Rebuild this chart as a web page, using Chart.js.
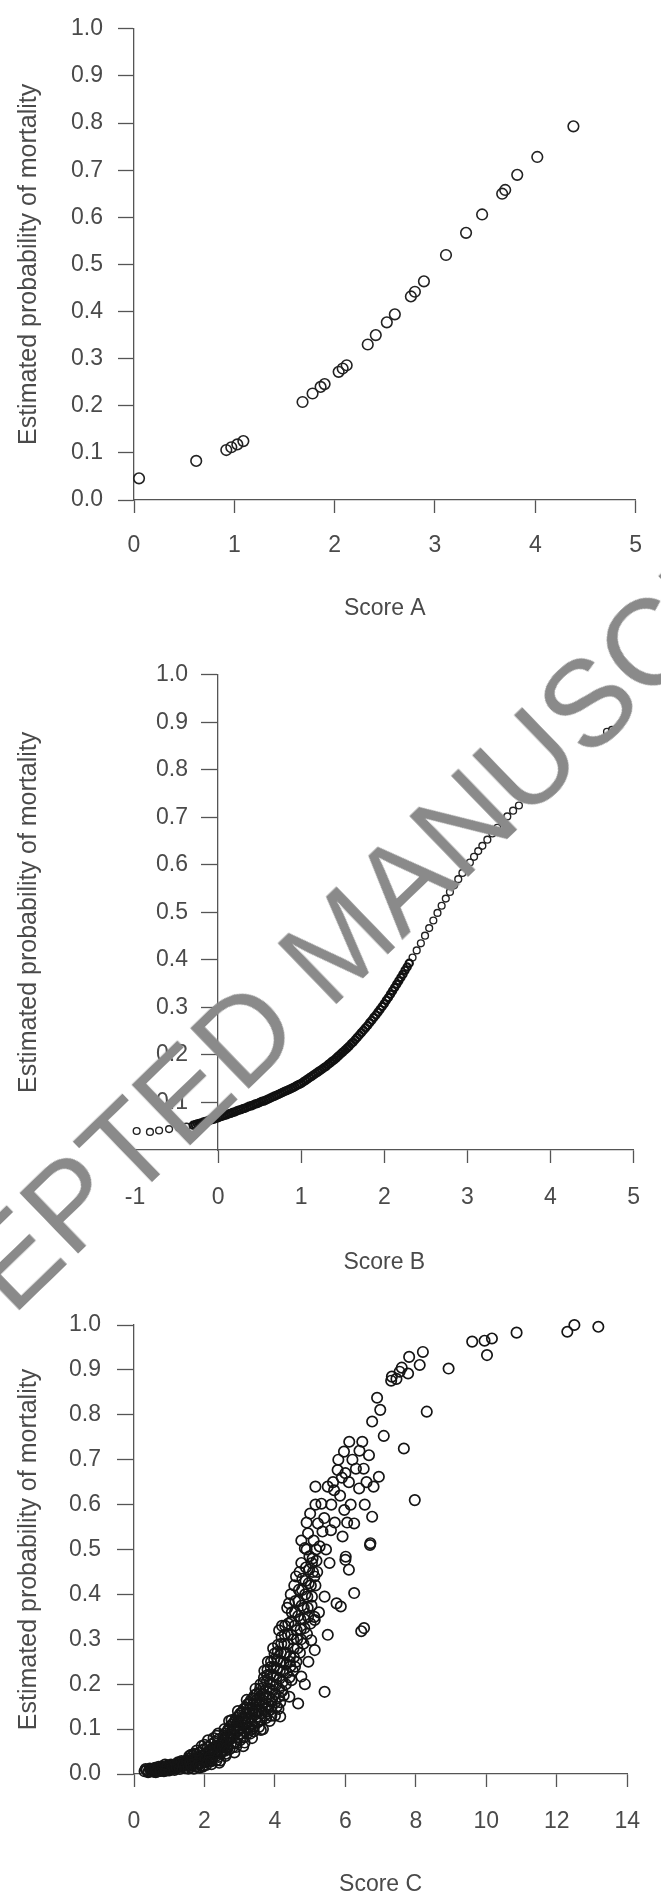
<!DOCTYPE html>
<html>
<head>
<meta charset="utf-8">
<script src="https://cdn.jsdelivr.net/npm/chart.js@4.4.1/dist/chart.umd.min.js"></script>
<style>
  html, body { margin: 0; padding: 0; background: #fff; overflow: hidden; }
  #wrap { position: relative; width: 661px; height: 1899px; overflow: hidden; }
  canvas { position: absolute; left: 0; }
  #wm {
    position: absolute; left: -173px; top: 1393px;
    font-family: 'Liberation Sans', Arial, sans-serif; font-size: 122px; line-height: 1;
    white-space: nowrap; color: #8a8a8a;
    transform-origin: 0 103px; transform: rotate(-44deg);
  }
</style>
</head>
<body>
<div id="wrap">
  <canvas id="chartA" width="661" height="640" style="top:0"></canvas>
  <canvas id="chartB" width="661" height="640" style="top:640px"></canvas>
  <canvas id="chartC" width="661" height="619" style="top:1280px"></canvas>
  <div id="wm">ACCEPTED MANUSCRIPT</div>
</div>
<script>
// ---- data ----
const yTitle = "Estimated probability of mortality";
const yTicks = [0, 0.1, 0.2, 0.3, 0.4, 0.5, 0.6, 0.7, 0.8, 0.9, 1.0];
const yTicksB = [0.1, 0.2, 0.3, 0.4, 0.5, 0.6, 0.7, 0.8, 0.9, 1.0];
const xTicksA = [0, 1, 2, 3, 4, 5];
const xTicksB = [-1, 0, 1, 2, 3, 4, 5];
const xTicksC = [0, 2, 4, 6, 8, 10, 12, 14];

const scoreA = [0.05, 0.62, 0.92, 0.97, 1.03, 1.09, 1.68, 1.78, 1.86, 1.90, 2.04, 2.08, 2.12, 2.33,
  2.41, 2.52, 2.60, 2.76, 2.80, 2.89, 3.11, 3.31, 3.47, 3.67, 3.70, 3.82, 4.02, 4.38];
const probA = [0.046, 0.083, 0.106, 0.112, 0.118, 0.125, 0.208, 0.226, 0.240, 0.246, 0.272, 0.279, 0.286, 0.330,
  0.350, 0.377, 0.394, 0.432, 0.442, 0.464, 0.520, 0.567, 0.606, 0.650, 0.658, 0.690, 0.728, 0.793];

// Score B: the solid band of overlapping points
const scoreBBand = [
  -0.300, -0.275, -0.250, -0.225, -0.200, -0.175, -0.150, -0.125, -0.100, -0.075,
  -0.050, -0.025, 0.000, 0.025, 0.050, 0.075, 0.100, 0.125, 0.150, 0.175,
  0.200, 0.225, 0.250, 0.275, 0.300, 0.325, 0.350, 0.375, 0.400, 0.425,
  0.450, 0.475, 0.500, 0.525, 0.550, 0.575, 0.600, 0.625, 0.650, 0.675,
  0.700, 0.725, 0.750, 0.775, 0.800, 0.825, 0.850, 0.875, 0.900, 0.925,
  0.950, 0.975, 1.000, 1.025, 1.050, 1.075, 1.100, 1.125, 1.150, 1.175,
  1.200, 1.225, 1.250, 1.275, 1.300, 1.325, 1.350, 1.375, 1.400, 1.425,
  1.450, 1.475, 1.500, 1.525, 1.550, 1.575, 1.600, 1.625, 1.650, 1.675,
  1.700, 1.725, 1.750, 1.775, 1.800, 1.825, 1.850, 1.875, 1.900, 1.925,
  1.950, 1.975, 2.000, 2.025, 2.050, 2.075, 2.100, 2.125, 2.150, 2.175,
  2.200, 2.225, 2.250, 2.275, 2.300];
const probBBand = [
  0.052, 0.053, 0.055, 0.056, 0.057, 0.059, 0.060, 0.061, 0.063, 0.064,
  0.065, 0.067, 0.068, 0.070, 0.071, 0.073, 0.074, 0.076, 0.077, 0.079,
  0.080, 0.082, 0.084, 0.085, 0.087, 0.088, 0.090, 0.092, 0.093, 0.095,
  0.097, 0.098, 0.100, 0.102, 0.103, 0.105, 0.107, 0.109, 0.111, 0.113,
  0.115, 0.117, 0.119, 0.121, 0.123, 0.125, 0.127, 0.129, 0.131, 0.133,
  0.136, 0.138, 0.140, 0.143, 0.146, 0.149, 0.152, 0.155, 0.158, 0.161,
  0.164, 0.167, 0.170, 0.173, 0.176, 0.180, 0.183, 0.187, 0.190, 0.194,
  0.198, 0.202, 0.206, 0.210, 0.214, 0.218, 0.223, 0.227, 0.232, 0.237,
  0.242, 0.247, 0.252, 0.257, 0.262, 0.268, 0.273, 0.279, 0.284, 0.290,
  0.296, 0.302, 0.308, 0.315, 0.321, 0.328, 0.335, 0.342, 0.349, 0.356,
  0.363, 0.370, 0.378, 0.385, 0.393];
// Score B: the separate points at both ends
const scoreBSpread = [2.34, 2.39, 2.44, 2.49, 2.54, 2.59, 2.64, 2.69, 2.74, 2.79, 2.84, 2.89, 2.94, 2.99,
  3.03, 3.08, 3.13, 3.18, 3.24, 3.30, 3.36, 3.42, 3.48, 3.55, 3.62,
  4.68, 4.74, -0.98, -0.82, -0.71, -0.59, -0.47, -0.38];
const probBSpread = [0.405, 0.420, 0.435, 0.451, 0.467, 0.483, 0.499, 0.514, 0.529, 0.543, 0.557, 0.570, 0.583, 0.595,
  0.605, 0.617, 0.629, 0.640, 0.653, 0.666, 0.678, 0.690, 0.702, 0.714, 0.725,
  0.880, 0.884, 0.040, 0.038, 0.041, 0.044, 0.047, 0.049];

const scoreC = [
  0.30, 0.36, 0.42, 0.47, 0.52, 0.57, 0.61, 0.66, 0.70, 0.74, 0.78, 0.82, 0.86, 0.90, 0.93, 0.97,
  1.00, 1.04, 1.07, 1.10, 1.13, 1.17, 1.20, 1.23, 1.27, 1.30, 1.33, 1.37, 1.40, 1.44, 1.47, 1.50,
  0.40, 0.45, 0.50, 0.55, 0.60, 0.65, 0.70, 0.75, 0.80, 0.85, 0.90, 0.95, 1.00, 1.05, 1.10, 1.15,
  1.20, 1.25, 1.30, 1.35, 1.40, 1.45, 0.33, 0.62, 0.88,
  1.53, 1.56, 1.58, 1.61, 1.64, 1.66, 1.69, 1.72, 1.74, 1.77, 1.80, 1.82, 1.85, 1.88, 1.90, 1.93,
  1.96, 1.98, 2.01, 2.04, 2.06, 2.09, 2.12, 2.14, 2.17, 2.20, 2.22, 2.25, 2.28, 2.30, 2.33, 2.36,
  2.38, 2.41, 2.44, 2.46, 2.49, 1.70, 1.95, 2.20, 2.45, 2.10, 2.35,
  1.51, 1.54, 1.57, 1.60, 1.63, 1.67, 1.71, 1.75, 1.79, 1.83, 1.87, 1.91, 1.94, 1.97, 2.00, 2.03,
  2.07, 2.11, 2.15, 2.19, 2.23, 2.27, 2.31, 2.34, 2.37, 2.40, 2.43, 2.47, 2.50, 1.62, 1.78, 1.92,
  2.05, 2.18, 2.31, 2.42, 1.86, 2.00, 2.26, 2.39,
  2.51, 2.53, 2.56, 2.58, 2.61, 2.63, 2.66, 2.68, 2.71, 2.73, 2.76, 2.78, 2.81, 2.83, 2.86, 2.88,
  2.91, 2.93, 2.96, 2.98, 3.01, 3.03, 3.06, 3.08, 3.11, 3.13, 3.16, 3.18, 3.21, 3.23, 3.26, 3.28,
  3.31, 3.33, 3.36, 3.38, 3.41, 3.43, 3.46, 3.48, 2.60, 2.85, 3.10, 3.35, 2.70, 2.95, 3.20, 3.45,
  3.00, 3.25,
  2.52, 2.55, 2.57, 2.59, 2.62, 2.65, 2.67, 2.69, 2.72, 2.75, 2.77, 2.79, 2.82, 2.84, 2.87, 2.89,
  2.92, 2.94, 2.97, 2.99, 3.02, 3.05, 3.07, 3.09, 3.12, 3.15, 3.17, 3.19, 3.22, 3.24, 3.27, 3.29,
  3.32, 3.34, 3.37, 3.39, 3.42, 3.44, 3.47, 3.49, 2.64, 2.90, 3.14, 3.30, 3.40,
  3.51, 3.53, 3.56, 3.58, 3.61, 3.63, 3.66, 3.68, 3.71, 3.73, 3.76, 3.78, 3.81, 3.83, 3.86, 3.88,
  3.91, 3.93, 3.96, 3.98, 4.01, 4.03, 4.06, 4.08, 4.11, 4.13, 4.16, 4.18, 4.21, 4.23, 4.26, 4.28,
  3.60, 3.85, 4.10, 3.70, 3.95, 4.20, 3.66, 4.00,
  3.52, 3.54, 3.57, 3.59, 3.62, 3.64, 3.67, 3.69, 3.72, 3.74, 3.77, 3.79, 3.82, 3.84, 3.87, 3.89,
  3.92, 3.94, 3.97, 3.99, 4.02, 4.04, 4.07, 4.09, 4.12, 4.14, 4.17, 4.19, 4.22, 4.24, 4.27, 4.29,
  3.55, 3.75, 3.90, 4.05, 4.15, 4.25, 3.80, 4.12,
  4.31, 4.33, 4.36, 4.38, 4.41, 4.43, 4.46, 4.48, 4.51, 4.53, 4.56, 4.58, 4.61, 4.63, 4.66, 4.68,
  4.71, 4.73, 4.76, 4.78, 4.81, 4.83, 4.86, 4.88, 4.91, 4.93, 4.96, 4.98, 5.01, 5.05, 5.08, 5.12,
  5.15, 5.18, 4.45, 4.60, 4.75, 4.35,
  4.32, 4.37, 4.42, 4.47, 4.52, 4.57, 4.62, 4.67, 4.72, 4.77, 4.82, 4.87, 4.92, 4.97, 5.02, 5.07,
  5.12, 5.17, 4.34, 4.44, 4.54, 4.64, 4.74, 4.84, 4.94, 5.04, 4.40, 4.55, 4.70, 4.90,
  3.87, 4.15, 4.66, 5.41, 4.47, 4.75, 4.57, 5.13, 5.50, 5.87, 6.25, 6.53, 6.45, 6.00, 6.10, 6.70,
  5.41, 5.75, 5.13, 5.03, 4.41, 4.95, 5.25, 4.85,
  4.85, 4.94, 5.27, 5.22, 5.59, 5.32, 5.50, 5.68, 5.78, 6.00, 5.97, 6.25, 6.39, 6.52, 6.80, 6.95,
  6.76, 5.92, 6.71, 6.01, 5.96, 6.11, 6.48, 6.67, 7.09, 6.76, 6.99, 6.90, 7.66, 7.97, 5.00, 5.10,
  5.40, 5.15, 5.45, 5.60, 5.70, 5.85, 6.15, 6.30, 6.10, 5.35, 5.05, 5.20, 5.55, 6.55, 6.20, 6.40,
  5.80, 6.60, 5.65, 6.05, 5.90, 4.75, 4.90, 5.15,
  7.30, 7.32, 7.54, 7.78, 8.11, 7.81, 8.20, 8.93, 8.31, 7.60, 7.45, 9.60, 9.95, 10.16, 10.02, 10.86,
  12.30, 12.50, 13.18];
const probC = [
  0.006, 0.009, 0.005, 0.010, 0.007, 0.012, 0.008, 0.011, 0.006, 0.013, 0.009, 0.014, 0.010, 0.016, 0.008, 0.013,
  0.018, 0.011, 0.015, 0.020, 0.012, 0.017, 0.022, 0.014, 0.019, 0.025, 0.016, 0.021, 0.027, 0.018, 0.023, 0.030,
  0.004, 0.012, 0.008, 0.005, 0.014, 0.010, 0.016, 0.007, 0.017, 0.006, 0.012, 0.019, 0.008, 0.021, 0.014, 0.009,
  0.016, 0.026, 0.011, 0.029, 0.020, 0.013, 0.011, 0.004, 0.021,
  0.020, 0.035, 0.026, 0.015, 0.031, 0.040, 0.022, 0.034, 0.028, 0.044, 0.018, 0.037, 0.030, 0.048, 0.024, 0.041,
  0.034, 0.055, 0.027, 0.046, 0.038, 0.060, 0.031, 0.050, 0.043, 0.066, 0.035, 0.055, 0.047, 0.072, 0.040, 0.061,
  0.052, 0.078, 0.045, 0.067, 0.058, 0.012, 0.016, 0.022, 0.030, 0.075, 0.085,
  0.028, 0.012, 0.040, 0.024, 0.019, 0.027, 0.045, 0.016, 0.036, 0.022, 0.040, 0.031, 0.052, 0.019, 0.043, 0.034,
  0.026, 0.050, 0.037, 0.029, 0.058, 0.045, 0.052, 0.030, 0.068, 0.038, 0.060, 0.050, 0.070, 0.043, 0.052, 0.062,
  0.020, 0.028, 0.060, 0.025, 0.014, 0.065, 0.080, 0.090,
  0.050, 0.075, 0.062, 0.090, 0.045, 0.070, 0.082, 0.100, 0.055, 0.078, 0.092, 0.110, 0.060, 0.085, 0.100, 0.120,
  0.068, 0.094, 0.108, 0.130, 0.075, 0.100, 0.118, 0.138, 0.082, 0.108, 0.125, 0.148, 0.090, 0.116, 0.135, 0.158,
  0.098, 0.124, 0.145, 0.168, 0.106, 0.132, 0.155, 0.178, 0.040, 0.048, 0.062, 0.080, 0.118, 0.140, 0.165, 0.190,
  0.088, 0.104,
  0.060, 0.085, 0.100, 0.052, 0.080, 0.095, 0.060, 0.085, 0.105, 0.068, 0.120, 0.080, 0.098, 0.115, 0.072, 0.108,
  0.125, 0.082, 0.115, 0.100, 0.135, 0.090, 0.110, 0.125, 0.145, 0.095, 0.115, 0.135, 0.155, 0.105, 0.125, 0.145,
  0.165, 0.112, 0.135, 0.155, 0.175, 0.120, 0.140, 0.165, 0.058, 0.060, 0.070, 0.090, 0.095,
  0.115, 0.140, 0.165, 0.190, 0.120, 0.150, 0.178, 0.205, 0.130, 0.160, 0.190, 0.220, 0.140, 0.172, 0.205, 0.238,
  0.150, 0.185, 0.220, 0.255, 0.160, 0.198, 0.235, 0.272, 0.172, 0.212, 0.250, 0.290, 0.185, 0.228, 0.268, 0.310,
  0.098, 0.118, 0.145, 0.230, 0.280, 0.330, 0.100, 0.130,
  0.128, 0.155, 0.180, 0.200, 0.135, 0.165, 0.192, 0.215, 0.145, 0.175, 0.205, 0.232, 0.155, 0.190, 0.222, 0.250,
  0.165, 0.200, 0.238, 0.268, 0.178, 0.215, 0.255, 0.288, 0.190, 0.230, 0.270, 0.305, 0.205, 0.248, 0.290, 0.330,
  0.105, 0.125, 0.130, 0.150, 0.160, 0.175, 0.250, 0.320,
  0.200, 0.245, 0.290, 0.335, 0.215, 0.262, 0.310, 0.360, 0.230, 0.280, 0.330, 0.385, 0.250, 0.300, 0.352, 0.410,
  0.270, 0.322, 0.375, 0.435, 0.290, 0.345, 0.400, 0.460, 0.312, 0.370, 0.425, 0.485, 0.335, 0.395, 0.450, 0.350,
  0.420, 0.475, 0.400, 0.440, 0.470, 0.370,
  0.270, 0.310, 0.250, 0.340, 0.300, 0.360, 0.320, 0.385, 0.345, 0.410, 0.370, 0.430, 0.395, 0.455, 0.420, 0.480,
  0.440, 0.500, 0.225, 0.240, 0.260, 0.280, 0.300, 0.325, 0.350, 0.375, 0.380, 0.420, 0.450, 0.500,
  0.143, 0.128, 0.157, 0.183, 0.209, 0.217, 0.239, 0.276, 0.310, 0.373, 0.403, 0.325, 0.318, 0.477, 0.455, 0.510,
  0.395, 0.380, 0.343, 0.298, 0.172, 0.250, 0.360, 0.200,
  0.503, 0.536, 0.507, 0.558, 0.543, 0.602, 0.640, 0.632, 0.677, 0.670, 0.588, 0.558, 0.636, 0.680, 0.640, 0.662,
  0.573, 0.529, 0.514, 0.484, 0.718, 0.740, 0.740, 0.710, 0.753, 0.785, 0.811, 0.838, 0.725, 0.610, 0.580, 0.520,
  0.570, 0.600, 0.500, 0.600, 0.560, 0.620, 0.600, 0.680, 0.650, 0.540, 0.470, 0.450, 0.470, 0.600, 0.700, 0.720,
  0.700, 0.650, 0.650, 0.560, 0.660, 0.520, 0.560, 0.640,
  0.876, 0.885, 0.896, 0.892, 0.911, 0.929, 0.940, 0.903, 0.807, 0.905, 0.880, 0.963, 0.965, 0.970, 0.933, 0.983,
  0.985, 1.000, 0.996];

// ---- styling ----
const FONT = "'Liberation Sans', Arial, Helvetica, sans-serif";
const TEXT = "#4a4a4a";
const AXIS = "#555555";

const pairs = (xs, ys) => xs.map((x, i) => ({ x: x, y: ys[i] }));
const setTicks = (list) => (scale) => { scale.ticks = list.map((v) => ({ value: v })); };

function points(data, radius, borderWidth, color) {
    return {
        data: data,
        xAxisID: "x",
        yAxisID: "y",
        pointStyle: "circle",
        pointRadius: radius,
        pointBorderWidth: borderWidth,
        pointBorderColor: color,
        pointBackgroundColor: "rgba(0,0,0,0)",
        clip: false,
    };
}

function xScale(list, height, tickPad, titlePad, title) {
    return {
        type: "linear",
        position: "bottom",
        min: list[0],
        max: list[list.length - 1],
        afterBuildTicks: setTicks(list),
        afterFit: (s) => { s.height = height; },
        ticks: {
            autoSkip: false,
            maxRotation: 0,
            padding: tickPad,
            color: TEXT,
            font: { family: FONT, size: 23 },
        },
        grid: { drawOnChartArea: false, tickLength: 13, tickWidth: 1.3, tickColor: AXIS },
        border: { color: AXIS, width: 1.3 },
        title: {
            display: true,
            text: title,
            color: TEXT,
            font: { family: FONT, size: 23 },
            padding: { top: 0, bottom: titlePad },
        },
    };
}

function yScale(list, width, tickPad, tickLen) {
    return {
        type: "linear",
        position: "left",
        min: 0,
        max: 1,
        afterBuildTicks: setTicks(list),
        afterFit: (s) => { s.width = width; },
        ticks: {
            padding: tickPad,
            color: TEXT,
            font: { family: FONT, size: 23 },
            callback: (v) => v.toFixed(1),
        },
        grid: { drawOnChartArea: false, tickLength: tickLen, tickWidth: 1.3, tickColor: AXIS },
        border: { color: AXIS, width: 1.3 },
        title: {
            display: true,
            text: yTitle,
            color: TEXT,
            font: { family: FONT, size: 25 },
            padding: { top: 14, bottom: 0 },
        },
    };
}

function panel(id, datasets, padding, scales) {
    return new Chart(document.getElementById(id), {
        type: "scatter",
        data: { datasets: datasets },
        options: {
            responsive: false,
            animation: false,
            events: [],
            layout: { padding: padding },
            plugins: { legend: { display: false }, tooltip: { enabled: false } },
            scales: scales,
        },
    });
}

// Score A
panel("chartA", [points(pairs(scoreA, probA), 5.3, 1.6, "#222222")],
    { top: 24, right: 24, left: 0, bottom: 0 },
    {
        x: xScale(xTicksA, 140, 19, 18, "Score A"),
        y: yScale(yTicks, 134, 15, 16),
    });

// Score B: the axis line and ticks sit at score 0,
// labels and title live on a left axis (labels mirrored inward)
const yLabelsB = yScale(yTicksB, 135, 21, 0);
yLabelsB.ticks.mirror = true;
yLabelsB.grid = { display: false };
yLabelsB.border = { display: false };

panel("chartB", [
        points(pairs(scoreBBand, probBBand), 3.6, 2.2, "#111111"),
        points(pairs(scoreBSpread, probBSpread), 3.4, 1.4, "#222222"),
    ],
    { top: 23, right: 12, left: 0, bottom: 0 },
    {
        x: xScale(xTicksB, 130, 21, 4, "Score B"),
        yl: yLabelsB,
        y: {
            type: "linear",
            position: { x: 0 },
            min: 0,
            max: 1,
            afterBuildTicks: setTicks(yTicksB),
            ticks: { display: false },
            grid: { drawOnChartArea: false, tickLength: 16, tickWidth: 1.3, tickColor: AXIS },
            border: { color: AXIS, width: 1.3 },
        },
    });

// Score C
panel("chartC", [points(pairs(scoreC, probC), 5.2, 1.7, "#151515")],
    { top: 45, right: 27, left: 0, bottom: 0 },
    {
        x: xScale(xTicksC, 125, 21, 1, "Score C"),
        y: yScale(yTicks, 134, 16, 17),
    });
</script>
</body>
</html>
